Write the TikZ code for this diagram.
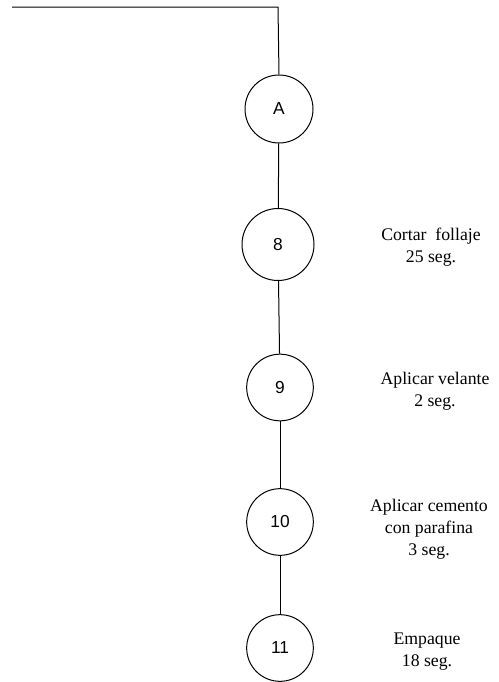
\documentclass[tikz,border=0pt]{standalone}
\usepackage{fontspec}
\setmainfont{Liberation Serif}
\newfontfamily\labelfont{Liberation Sans}

\tikzset{every picture/.style={line width=0.75pt}}
\tikzset{
	opcirc/.style={draw, circle, inner sep=0pt, minimum size=50pt,
		font=\labelfont\fontsize{13}{15}\selectfont},
	opnote/.style={align=center, font=\fontsize{13.3}{16.5}\selectfont}}

\begin{document}
\begin{tikzpicture}[x=0.75pt,y=0.75pt,yscale=-1,xscale=1]
	\useasboundingbox (0,0) rectangle (499,682);

	% Connector circles
	\node [opcirc, minimum size=51pt] (conA) at (279,109) {A};
	\node [opcirc, minimum size=54pt] (op8) at (278,244.5) {8};
	\node [opcirc] (op9) at (280,387.5) {9};
	\node [opcirc] (op10) at (280,522) {10};
	\node [opcirc] (op11) at (280,648) {11};

	% Incoming line
	\coordinate (start) at (12,7);
	\coordinate (corner) at (278,7);
	\draw (start) -- (corner) -- (conA.north);

	% Links
	\draw (conA) -- (op8);
	\draw (op8) -- (op9);
	\draw (op9) -- (op10);
	\draw (op10) -- (op11);

	% Text Nodes
	\node [opnote] (txt8) at (431,247.5) {Cortar\ \ follaje\\25 seg.};
	\node [opnote] (txt9) at (435,391.5) {Aplicar velante\\2 seg.};
	\node [opnote] (txt10) at (429,529) {Aplicar cemento\\con parafina\\3 seg.};
	\node [opnote] (txt11) at (427,652) {Empaque\\18 seg.};

\end{tikzpicture}
\end{document}
